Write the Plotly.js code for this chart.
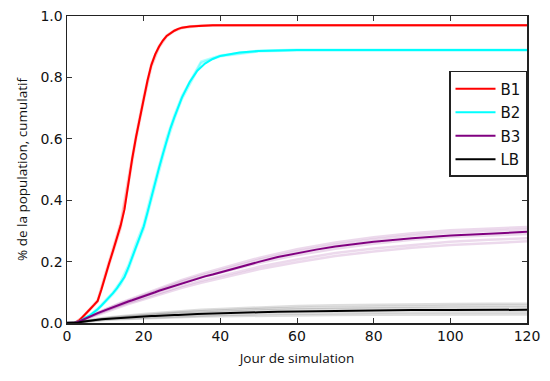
<!DOCTYPE html>
<html>
<head>
<meta charset="utf-8">
<script src="https://cdn.plot.ly/plotly-3.0.1.min.js"></script>
<style>html,body{margin:0;padding:0;background:#fff;}#chart{width:550px;height:381px;}</style>
</head>
<body>
<div id="chart"></div>
<script>
// Main curves (mean), sampled days
const days = [0,1,2,3,4,5,6,7,8,9,10,11,12,13,14,15,16,17,18,19,20,21,22,23,24,25,26,27,28,29,30,32,34,36,38,40,45,50,55,60,65,70,75,80,90,100,110,120];
const b1 = [0,0,0,0.006,0.018,0.03,0.045,0.058,0.072,0.11,0.155,0.195,0.235,0.275,0.318,0.37,0.46,0.535,0.605,0.67,0.73,0.79,0.84,0.875,0.9,0.92,0.935,0.945,0.952,0.958,0.962,0.966,0.968,0.969,0.97,0.97,0.97,0.97,0.97,0.97,0.97,0.97,0.97,0.97,0.97,0.97,0.97,0.97];
const b2 = [0,0,0,0.004,0.01,0.018,0.025,0.034,0.045,0.057,0.07,0.083,0.097,0.113,0.13,0.15,0.18,0.215,0.25,0.283,0.314,0.36,0.41,0.46,0.505,0.55,0.595,0.635,0.67,0.705,0.735,0.785,0.822,0.845,0.86,0.87,0.881,0.886,0.888,0.889,0.889,0.889,0.889,0.889,0.889,0.889,0.889,0.889];
const b3 = [0,0,0,0.004,0.01,0.015,0.02,0.026,0.032,0.037,0.042,0.047,0.052,0.057,0.062,0.066,0.07,0.074,0.078,0.083,0.087,0.091,0.096,0.1,0.105,0.109,0.114,0.118,0.122,0.126,0.13,0.138,0.145,0.152,0.158,0.165,0.183,0.199,0.215,0.228,0.239,0.249,0.258,0.265,0.276,0.285,0.291,0.297];
const lb = [0,0,0,0.002,0.004,0.006,0.008,0.009,0.011,0.012,0.013,0.014,0.015,0.016,0.017,0.018,0.018,0.019,0.02,0.021,0.021,0.022,0.023,0.023,0.024,0.024,0.025,0.025,0.026,0.026,0.027,0.028,0.029,0.03,0.031,0.032,0.034,0.035,0.037,0.038,0.039,0.04,0.041,0.041,0.042,0.042,0.043,0.043];

// Individual simulation runs (faint)
const runDays = [0,2,4,6,8,10,12,14,16,18,20,22,24,26,28,30,35,40,50,60,70,80,90,100,110,120];
const b1RunA = [0,0,0.019,0.046,0.075,0.16,0.241,0.326,0.47,0.612,0.737,0.845,0.903,0.937,0.953,0.963,0.969,0.97,0.97,0.97,0.97,0.97,0.97,0.97,0.97,0.97];
const b1RunB = [0,0,0.017,0.044,0.07,0.15,0.229,0.31,0.45,0.598,0.723,0.835,0.897,0.933,0.951,0.961,0.968,0.97,0.97,0.97,0.97,0.97,0.97,0.97,0.97,0.97];
const b2RunA = [0,0,0.011,0.026,0.047,0.072,0.1,0.135,0.187,0.258,0.322,0.42,0.515,0.603,0.676,0.74,0.852,0.871,0.887,0.89,0.89,0.89,0.89,0.89,0.89,0.89];
const b2RunB = [0,0,0.009,0.024,0.043,0.068,0.094,0.125,0.173,0.243,0.306,0.4,0.495,0.587,0.664,0.73,0.847,0.869,0.885,0.888,0.888,0.888,0.888,0.888,0.888,0.888];
const b3RunA = [0,0,0.009,0.018,0.028,0.037,0.046,0.055,0.062,0.069,0.077,0.085,0.093,0.101,0.108,0.115,0.131,0.146,0.175,0.198,0.218,0.233,0.245,0.254,0.261,0.266];
const b3RunB = [0,0,0.01,0.019,0.03,0.04,0.049,0.058,0.066,0.073,0.081,0.09,0.098,0.106,0.114,0.121,0.138,0.153,0.183,0.207,0.228,0.243,0.255,0.265,0.271,0.276];
const b3RunC = [0,0,0.011,0.021,0.033,0.044,0.054,0.064,0.073,0.081,0.09,0.1,0.109,0.118,0.127,0.135,0.154,0.171,0.205,0.233,0.255,0.272,0.285,0.294,0.3,0.305];
const b3RunD = [0,0,0.011,0.022,0.034,0.045,0.056,0.066,0.075,0.084,0.093,0.103,0.113,0.122,0.131,0.14,0.16,0.177,0.212,0.24,0.262,0.279,0.292,0.302,0.308,0.313];
const b3RunE = [0,0,0.01,0.02,0.032,0.042,0.052,0.061,0.07,0.078,0.087,0.096,0.105,0.114,0.122,0.13,0.148,0.164,0.195,0.221,0.242,0.258,0.271,0.28,0.286,0.29];
const lbRunA = [0,0,0.003,0.006,0.008,0.01,0.011,0.012,0.013,0.014,0.015,0.016,0.017,0.018,0.018,0.019,0.021,0.022,0.024,0.025,0.026,0.027,0.027,0.028,0.028,0.028];
const lbRunB = [0,0,0.004,0.007,0.009,0.011,0.013,0.014,0.015,0.016,0.017,0.018,0.019,0.02,0.021,0.022,0.024,0.026,0.029,0.031,0.032,0.033,0.034,0.034,0.035,0.035];
const lbRunC = [0,0,0.004,0.008,0.012,0.014,0.016,0.018,0.02,0.022,0.024,0.026,0.027,0.029,0.03,0.031,0.034,0.037,0.041,0.044,0.046,0.047,0.048,0.049,0.05,0.05];
const lbRunD = [0,0,0.005,0.009,0.013,0.015,0.018,0.02,0.022,0.024,0.026,0.028,0.03,0.032,0.033,0.035,0.038,0.041,0.046,0.049,0.051,0.053,0.054,0.055,0.056,0.056];
const lbRunE = [0,0,0.005,0.01,0.014,0.017,0.02,0.022,0.025,0.027,0.029,0.031,0.033,0.035,0.037,0.039,0.043,0.046,0.051,0.055,0.058,0.06,0.061,0.062,0.063,0.063];

const seriesNames = ['B1','B2','B3','LB'];
const tickVals = [0,20,40,60,80,100,120];
const yTickVals = [0,0.2,0.4,0.6,0.8,1.0];

const colors = {B1:'#ff0000', B2:'#00ffff', B3:'#800080', LB:'#000000'};
const faint = {B1:'rgba(255,0,0,0.2)', B2:'rgba(0,255,255,0.3)', B3:'rgba(128,0,128,0.15)', LB:'rgba(0,0,0,0.13)'};

const runs = {B1:[b1RunA,b1RunB], B2:[b2RunA,b2RunB], B3:[b3RunA,b3RunB,b3RunC,b3RunD,b3RunE], LB:[lbRunA,lbRunB,lbRunC,lbRunD,lbRunE]};
const mains = {B1:b1, B2:b2, B3:b3, LB:lb};

const traces = [];
seriesNames.forEach(n => {
  runs[n].forEach(r => traces.push({x: runDays, y: r, mode:'lines', line:{color: faint[n], width:2.5}, showlegend:false, hoverinfo:'skip', legendgroup:n}));
});
seriesNames.forEach(n => {
  traces.push({x: days, y: mains[n], mode:'lines', name:n, line:{color: colors[n], width:2}, legendgroup:n});
});

const axisCommon = {
  showline:true, linecolor:'#222', linewidth:1.5, mirror:'allticks',
  ticks:'inside', ticklen:5, tickcolor:'#333', tickwidth:1,
  showgrid:false, zeroline:false, automargin:false,
  tickfont:{family:'DejaVu Sans', size:14, color:'#111'}
};

const layout = {
  width:550, height:381,
  margin:{l:67, r:23, t:16, b:58},
  paper_bgcolor:'#fff', plot_bgcolor:'#fff',
  xaxis: Object.assign({}, axisCommon, {range:[0,120], tickvals:tickVals,
    title:{text:'Jour de simulation', font:{family:'Open Sans', size:13.5, color:'#111'}, standoff:10}}),
  yaxis: Object.assign({}, axisCommon, {range:[0,1], tickvals:yTickVals, tickformat:'.1f',
    title:{text:'% de la population, cumulatif', font:{family:'Open Sans', size:13.5, color:'#111'}, standoff:9}}),
  legend:{x:1, xanchor:'right', y:0.821, yanchor:'top', bgcolor:'#fff', bordercolor:'#222', borderwidth:1.5,
    font:{family:'DejaVu Sans', size:15, color:'#111'}, traceorder:'grouped', tracegroupgap:1, itemwidth:40},
  showlegend:true
};

Plotly.newPlot('chart', traces, layout, {staticPlot:true, displayModeBar:false});
</script>
</body>
</html>
